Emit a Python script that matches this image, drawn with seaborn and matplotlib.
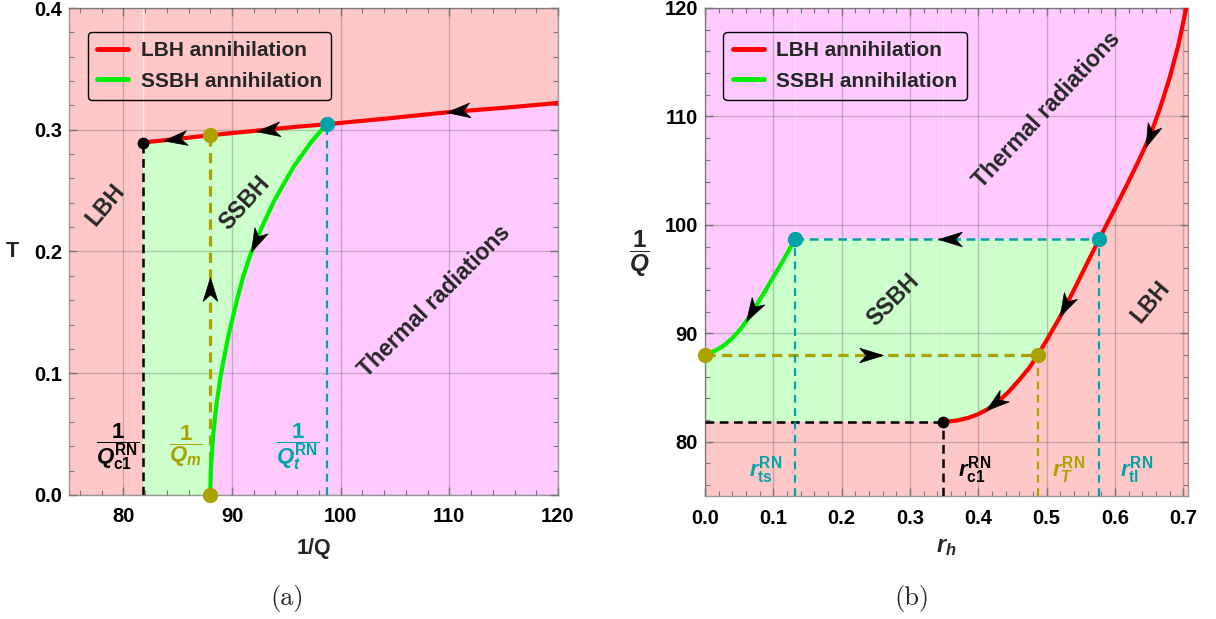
import numpy as np
import matplotlib
matplotlib.use("Agg")
import matplotlib.pyplot as plt
from matplotlib.path import Path
from matplotlib.markers import MarkerStyle
from matplotlib.transforms import Affine2D
from matplotlib.ticker import MultipleLocator, FormatStrFormatter
import seaborn as sns

# ---------------- data ----------------
# panel (a): T vs 1/Q
lbh_a_x = [81.8, 85.0, 88.0, 92.0, 96.0, 98.7, 104.0, 110.0, 115.0, 120.0]
lbh_a_T = [0.2895, 0.2925, 0.2955, 0.299, 0.3025, 0.3045, 0.309, 0.3145, 0.318, 0.322]
ssbh_a_x = [88.0, 88.05, 88.27, 88.58, 89.0, 89.65, 90.45, 91.05, 91.8, 92.75, 93.9, 95.7, 97.3, 98.7]
ssbh_a_T = [0.0, 0.02, 0.05, 0.075, 0.10, 0.13, 0.16, 0.18, 0.20, 0.22, 0.242, 0.27, 0.29, 0.3045]
inv_Qc1, inv_Qm, inv_Qt = 81.8, 88.0, 98.7
T_c1, T_m, T_t = 0.2895, 0.2955, 0.3045

# panel (b): 1/Q vs r_h
lbh_b_r = [0.349, 0.36, 0.37, 0.385, 0.40, 0.415, 0.43, 0.445, 0.46, 0.475, 0.487,
           0.50, 0.52, 0.54, 0.56, 0.577, 0.60, 0.62, 0.635, 0.6457, 0.656, 0.666,
           0.6808, 0.693, 0.7042, 0.7055]
lbh_b_q = [81.85, 81.9, 81.98, 82.2, 82.55, 83.05, 83.75, 84.65, 85.7, 86.85, 88.0,
           89.35, 91.55, 94.0, 96.55, 98.7, 101.5, 104.0, 105.95, 107.4, 109.0, 110.75,
           113.7, 116.6, 119.9, 120.3]
ssbh_b_r = [0.0, 0.0073, 0.015, 0.0268, 0.04, 0.052, 0.063, 0.0757, 0.088, 0.10, 0.111, 0.1196, 0.1318]
ssbh_b_q = [88.0, 88.2, 88.4, 88.85, 89.55, 90.4, 91.35, 92.65, 93.9, 95.2, 96.35, 97.3, 98.7]
r_ts, r_c1, r_T, r_tl = 0.1318, 0.349, 0.487, 0.577
q_c1, q_m, q_t = 81.85, 88.0, 98.7

# arrows: (tail_x, tail_y, tip_x, tip_y)
arrows_a = [(112.0, 0.3165, 109.6, 0.3145), (94.4, 0.3005, 92.2, 0.2985),
            (85.9, 0.2935, 83.6, 0.291), (92.75, 0.22, 91.6, 0.198),
            (88.0, 0.158, 88.0, 0.18)]
arrows_b = [(0.656, 109.0, 0.6457, 107.4), (0.535, 93.4, 0.52, 91.55),
            (0.437, 84.2, 0.412, 82.95), (0.375, 98.7, 0.342, 98.7),
            (0.225, 88.0, 0.26, 88.0), (0.076, 92.75, 0.063, 91.35)]

# ---------------- style ----------------
sns.set_theme(style="ticks")
plt.rcParams["font.family"] = ["Liberation Sans", "DejaVu Sans"]
plt.rcParams["font.weight"] = "bold"
plt.rcParams["mathtext.fontset"] = "custom"
plt.rcParams["mathtext.rm"] = "Liberation Sans:bold"
plt.rcParams["mathtext.bf"] = "Liberation Sans:bold"
plt.rcParams["mathtext.sf"] = "Liberation Sans:bold"
plt.rcParams["mathtext.it"] = "Liberation Sans:italic:bold"

C_LBH = "#FFC8C8"
C_TR = "#FFCBFF"
C_SS = "#CCFFCC"
RED = "#FF0000"
GREEN = "#00EE00"
OLIVE = "#AAA200"
CYAN = "#00A3A8"
FS_TICK = 14.5
FS_LEG = 15
FS_REG = 16.5
FS_LAB = 15.5

fig = plt.figure(figsize=(12.16, 6.19), dpi=100)
axA = fig.add_axes([69 / 1216, 1 - 495 / 619, 489 / 1216, 487 / 619])
axB = fig.add_axes([705 / 1216, 1 - 496 / 619, 483 / 1216, 488 / 619])

arrow_path = Path([(1, 0), (-1, 0.62), (-0.45, 0), (-1, -0.62), (1, 0)],
                  [Path.MOVETO, Path.LINETO, Path.LINETO, Path.LINETO, Path.CLOSEPOLY])


def style_axes(ax, xlim, ylim, xmaj, xmin, ymaj, ymin, xfmt, yfmt):
    ax.set_xlim(*xlim)
    ax.set_ylim(*ylim)
    ax.set_facecolor(C_LBH)
    ax.xaxis.set_major_locator(MultipleLocator(xmaj))
    ax.xaxis.set_minor_locator(MultipleLocator(xmin))
    ax.yaxis.set_major_locator(MultipleLocator(ymaj))
    ax.yaxis.set_minor_locator(MultipleLocator(ymin))
    ax.xaxis.set_major_formatter(FormatStrFormatter(xfmt))
    ax.yaxis.set_major_formatter(FormatStrFormatter(yfmt))
    ax.tick_params(which="both", direction="in", top=True, right=True,
                   color="#777777", labelsize=FS_TICK, labelcolor="black")
    ax.tick_params(which="major", length=6, width=1)
    ax.tick_params(which="minor", length=3.5, width=0.8)
    ax.tick_params(axis="x", which="major", pad=9)
    ax.tick_params(axis="y", which="major", pad=5)
    for lab in ax.get_xticklabels() + ax.get_yticklabels():
        lab.set_fontweight("bold")
    for s in ax.spines.values():
        s.set_color("#999999")
        s.set_linewidth(1.0)
    ax.grid(True, which="major", color="#000000", alpha=0.2, lw=1.0, zorder=1)
    ax.set_axisbelow(False)


def draw_arrows(ax, arrows):
    for (x0, y0, x1, y1) in arrows:
        p = ax.transData.transform([(x0, y0), (x1, y1)])
        ang = np.degrees(np.arctan2(p[1, 1] - p[0, 1], p[1, 0] - p[0, 0]))
        m = MarkerStyle(arrow_path, transform=Affine2D().rotate_deg(ang))
        ax.plot([(x0 + x1) / 2], [(y0 + y1) / 2], marker=m, ms=17,
                color="black", mec="black", mew=0.5, ls="none", zorder=8)


# ---------------- panel (a) ----------------
style_axes(axA, (75, 120), (0, 0.4), 10, 2, 0.1, 0.02, "%d", "%.1f")
ia = lbh_a_x.index(inv_Qt)
mag_x = ssbh_a_x + lbh_a_x[ia:] + [lbh_a_x[-1]]
mag_y = ssbh_a_T + lbh_a_T[ia:] + [0.0]
axA.fill(mag_x, mag_y, color=C_TR, lw=0, zorder=0.5)
gr_x = [inv_Qc1] + lbh_a_x[:ia + 1] + ssbh_a_x[::-1]
gr_y = [0.0] + lbh_a_T[:ia + 1] + ssbh_a_T[::-1]
axA.fill(gr_x, gr_y, color=C_SS, lw=0, zorder=0.5)
axA.plot([inv_Qc1, inv_Qc1], [T_c1, 0.4], color="white", lw=1.0, alpha=0.7, zorder=0.8)

axA.plot([inv_Qc1, inv_Qc1], [0, T_c1], color="black", lw=1.8, ls=(0, (3.5, 2.2)), zorder=3)
axA.plot([inv_Qm, inv_Qm], [0, T_m], color=OLIVE, lw=2.3, ls=(0, (3.2, 2.0)), zorder=3)
axA.plot([inv_Qt, inv_Qt], [0, T_t], color=CYAN, lw=1.6, ls=(0, (3.5, 2.5)), zorder=3)

sns.lineplot(x=lbh_a_x, y=lbh_a_T, ax=axA, color=RED, lw=3, sort=False,
             estimator=None, zorder=4, label="LBH annihilation")
sns.lineplot(x=ssbh_a_x, y=ssbh_a_T, ax=axA, color=GREEN, lw=3, sort=False,
             estimator=None, zorder=4, label="SSBH annihilation")

axA.plot([inv_Qc1], [T_c1], "o", color="black", ms=7.5, zorder=6, clip_on=False)
axA.plot([inv_Qm, inv_Qm], [T_m, 0.0], "o", color=OLIVE, ms=10, zorder=6, clip_on=False)
axA.plot([inv_Qt], [T_t], "o", color=CYAN, ms=10, zorder=6, clip_on=False)
draw_arrows(axA, arrows_a)

axA.text(78.4, 0.238, "LBH", rotation=50, fontsize=FS_REG, fontweight="bold",
         ha="center", va="center", zorder=7)
axA.text(91.2, 0.24, "SSBH", rotation=48, fontsize=FS_REG, fontweight="bold",
         ha="center", va="center", zorder=7)
axA.text(108.6, 0.159, "Thermal radiations", rotation=45, fontsize=FS_REG,
         fontweight="bold", ha="center", va="center", zorder=7)
axA.text(79.5, 0.040, r"$\dfrac{1}{Q^{\mathrm{RN}}_{\mathrm{c1}}}$", fontsize=16,
         ha="center", va="center", color="black", zorder=7)
axA.text(85.8, 0.040, r"$\dfrac{1}{Q_{m}}$", fontsize=16,
         ha="center", va="center", color=OLIVE, zorder=7)
axA.text(96.1, 0.040, r"$\dfrac{1}{Q^{\mathrm{RN}}_{t}}$", fontsize=16,
         ha="center", va="center", color=CYAN, zorder=7)

axA.set_xlabel("1/Q", fontsize=FS_LAB, fontweight="bold", labelpad=8)
axA.set_ylabel("T", fontsize=FS_LAB, fontweight="bold", rotation=0, va="center")
axA.yaxis.set_label_coords(-0.115, 0.5)

# ---------------- panel (b) ----------------
style_axes(axB, (0, 0.707), (75, 120), 0.1, 0.02, 10, 2, "%.1f", "%d")
ib = lbh_b_r.index(r_tl)
mag_r = [0.0, 0.0, lbh_b_r[-1]] + lbh_b_r[ib:][::-1] + ssbh_b_r[::-1]
mag_q = [q_m, 120.5, lbh_b_q[-1]] + lbh_b_q[ib:][::-1] + ssbh_b_q[::-1]
axB.fill(mag_r, mag_q, color=C_TR, lw=0, zorder=0.5)
gb_r = [0.0] + lbh_b_r[:ib + 1] + ssbh_b_r[::-1]
gb_q = [q_c1] + lbh_b_q[:ib + 1] + ssbh_b_q[::-1]
axB.fill(gb_r, gb_q, color=C_SS, lw=0, zorder=0.5)
axB.plot([r_c1, r_c1], [q_c1, 120], color="white", lw=1.0, alpha=0.35, zorder=0.8)
axB.plot([r_ts, r_ts], [q_t, 120], color="white", lw=1.0, alpha=0.35, zorder=0.8)

axB.plot([0, r_c1], [q_c1, q_c1], color="black", lw=1.8, ls=(0, (3.5, 2.2)), zorder=3)
axB.plot([r_c1, r_c1], [75, q_c1], color="black", lw=1.8, ls=(0, (3.5, 2.2)), zorder=3)
axB.plot([0, r_T], [q_m, q_m], color=OLIVE, lw=2.3, ls=(0, (3.2, 2.0)), zorder=3)
axB.plot([r_T, r_T], [75, q_m], color=OLIVE, lw=1.6, ls=(0, (3.5, 2.5)), zorder=3)
axB.plot([r_ts, r_tl], [q_t, q_t], color=CYAN, lw=1.8, ls=(0, (3.5, 2.2)), zorder=3)
axB.plot([r_ts, r_ts], [75, q_t], color=CYAN, lw=1.6, ls=(0, (3.5, 2.5)), zorder=3)
axB.plot([r_tl, r_tl], [75, q_t], color=CYAN, lw=1.6, ls=(0, (3.5, 2.5)), zorder=3)

sns.lineplot(x=lbh_b_r, y=lbh_b_q, ax=axB, color=RED, lw=3, sort=False,
             estimator=None, zorder=4, label="LBH annihilation")
sns.lineplot(x=ssbh_b_r, y=ssbh_b_q, ax=axB, color=GREEN, lw=3, sort=False,
             estimator=None, zorder=4, label="SSBH annihilation")

axB.plot([r_c1], [q_c1], "o", color="black", ms=7.5, zorder=6, clip_on=False)
axB.plot([0.0, r_T], [q_m, q_m], "o", color=OLIVE, ms=10, zorder=6, clip_on=False)
axB.plot([r_ts, r_tl], [q_t, q_t], "o", color=CYAN, ms=10, zorder=6, clip_on=False)
draw_arrows(axB, arrows_b)

axB.text(0.275, 93.1, "SSBH", rotation=45, fontsize=FS_REG, fontweight="bold",
         ha="center", va="center", zorder=7)
axB.text(0.653, 92.9, "LBH", rotation=50, fontsize=FS_REG, fontweight="bold",
         ha="center", va="center", zorder=7)
axB.text(0.500, 110.6, "Thermal radiations", rotation=47, fontsize=FS_REG,
         fontweight="bold", ha="center", va="center", zorder=7)
for rx, lab, col in [(0.088, r"$r^{\mathrm{RN}}_{\mathrm{ts}}$", CYAN),
                     (0.395, r"$r^{\mathrm{RN}}_{\mathrm{c1}}$", "black"),
                     (0.532, r"$r^{\mathrm{RN}}_{T}$", OLIVE),
                     (0.632, r"$r^{\mathrm{RN}}_{\mathrm{tl}}$", CYAN)]:
    axB.text(rx, 77.4, lab, fontsize=16, ha="center", va="center", color=col, zorder=7)

axB.set_xlabel(r"$r_h$", fontsize=17, labelpad=6)
axB.set_ylabel(r"$\dfrac{1}{Q}$", fontsize=17.5, rotation=0, va="center")
axB.yaxis.set_label_coords(-0.135, 0.496)

for ax in (axA, axB):
    leg = ax.legend(loc="upper left", bbox_to_anchor=(0.038, 0.951), fontsize=FS_LEG,
                    handlelength=1.5, handletextpad=0.6, borderpad=0.45,
                    labelspacing=0.55, borderaxespad=0.0, fancybox=True, frameon=True)
    fr = leg.get_frame()
    fr.set_facecolor("none")
    fr.set_edgecolor("black")
    fr.set_linewidth(1.0)
    fr.set_alpha(None)
    for t in leg.get_texts():
        t.set_fontweight("bold")
    for h in leg.get_lines():
        h.set_linewidth(3.5)
    leg.set_zorder(9)

fig.text(287 / 1216, 1 - 598 / 619, "(a)", fontsize=19, family="cmr10",
         ha="center", va="center")
fig.text(912 / 1216, 1 - 598 / 619, "(b)", fontsize=19, family="cmr10",
         ha="center", va="center")

fig.savefig("out.png", dpi=100)
